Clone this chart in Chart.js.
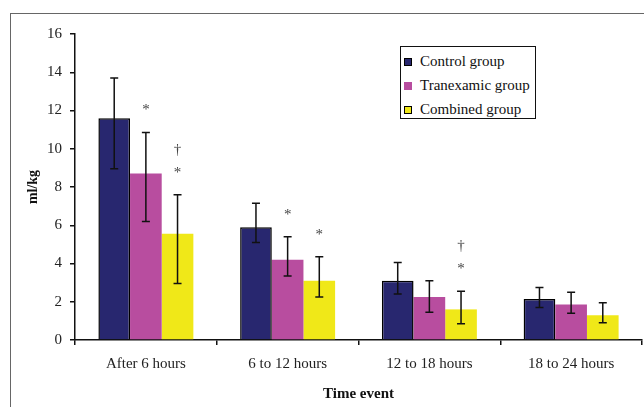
<!DOCTYPE html>
<html>
<head>
<meta charset="utf-8">
<script src="https://cdn.jsdelivr.net/npm/chart.js@4/dist/chart.umd.min.js"></script>
<style>
    body { margin: 0; background: #fff; }
    #wrap { position: relative; width: 644px; height: 407px; overflow: hidden; }
    .frame { position: absolute; left: 10px; top: 13px; width: 700px; height: 500px;
        border-top: 1.5px solid #666; border-left: 1.5px solid #666; }
    #legend { position: absolute; left: 400px; top: 46px; width: 131px; height: 69px;
        border: 1.5px solid #111; background: #fff; padding: 2px 0 0 3px; box-sizing: content-box;
        font: 15px "Liberation Serif", serif; color: #111; }
    #legend div { height: 24px; line-height: 24px; white-space: nowrap; }
    #legend span { display: inline-block; width: 8px; height: 8px; margin-right: 8px; box-sizing: border-box; }
</style>
</head>
<body>
<div id="wrap">
    <div class="frame"></div>
    <canvas id="chart"></canvas>
    <div id="legend"></div>
</div>
<script>
const categories = ['After 6 hours', '6 to 12 hours', '12 to 18 hours', '18 to 24 hours']
const seriesNames = ['Control group', 'Tranexamic group', 'Combined group']

// mean and the two ends of each error bar (ml/kg)
const controlMean = [11.6, 5.9, 3.1, 2.15]
const controlHigh = [13.7, 7.15, 4.05, 2.75]
const controlLow = [8.95, 5.1, 2.4, 1.7]
const tranexamicMean = [8.7, 4.2, 2.25, 1.85]
const tranexamicHigh = [10.85, 5.4, 3.1, 2.5]
const tranexamicLow = [6.2, 3.35, 1.45, 1.4]
const combinedMean = [5.55, 3.1, 1.6, 1.3]
const combinedHigh = [7.6, 4.35, 2.55, 1.95]
const combinedLow = [2.95, 2.25, 0.85, 0.9]

// significance marks above the bars
const controlMarks = ['', '', '', '']
const tranexamicMarks = ['*', '*', '', '']
const combinedMarks = ['†*', '*', '†*', '']

const yTicks = [0, 2, 4, 6, 8, 10, 12, 14, 16]

const colors = ['#28276f', '#b84d9f', '#f0e818']
const serif = '"Liberation Serif", "Times New Roman", serif'

// error bars + marks
const errorBars = {
    id: 'errorBars',
    afterDatasetsDraw(chart) {
        const ctx = chart.ctx
        const y = chart.scales.y
        ctx.save()
        chart.data.datasets.forEach((ds, di) => {
            const meta = chart.getDatasetMeta(di)
            meta.data.forEach((bar, i) => {
                const top = y.getPixelForValue(ds.errHigh[i])
                const bot = y.getPixelForValue(ds.errLow[i])
                ctx.strokeStyle = '#111'
                ctx.lineWidth = 1.5
                ctx.beginPath()
                ctx.moveTo(bar.x, top); ctx.lineTo(bar.x, bot)
                ctx.moveTo(bar.x - 4, top); ctx.lineTo(bar.x + 4, top)
                ctx.moveTo(bar.x - 4, bot); ctx.lineTo(bar.x + 4, bot)
                ctx.stroke()

                const marks = ds.marks[i]
                if (!marks) return
                ctx.fillStyle = '#444'
                ctx.font = '15px ' + serif
                ctx.textAlign = 'center'
                ctx.textBaseline = 'middle'
                let my = top - 25
                for (let k = marks.length - 1; k >= 0; k--) {
                    ctx.fillText(marks[k], bar.x, marks[k] == '*' ? my + 3 : my)
                    my -= 20
                }
            })
        })
        ctx.restore()
    }
}

new Chart(document.getElementById('chart'), {
    type: 'bar',
    data: {
        labels: categories,
        datasets: [
            { label: seriesNames[0], data: controlMean, errHigh: controlHigh, errLow: controlLow, marks: controlMarks,
              backgroundColor: colors[0], borderColor: '#000', borderWidth: 1.5 },
            { label: seriesNames[1], data: tranexamicMean, errHigh: tranexamicHigh, errLow: tranexamicLow, marks: tranexamicMarks,
              backgroundColor: colors[1], borderWidth: 0 },
            { label: seriesNames[2], data: combinedMean, errHigh: combinedHigh, errLow: combinedLow, marks: combinedMarks,
              backgroundColor: colors[2], borderWidth: 0 }
        ]
    },
    options: {
        responsive: true,
        maintainAspectRatio: false,
        animation: false,
        layout: { padding: { top: 34, right: 2, left: 0, bottom: 0 } },
        datasets: { bar: { categoryPercentage: 0.67, barPercentage: 1.0 } },
        plugins: { legend: { display: false }, tooltip: { enabled: false } },
        scales: {
            x: {
                afterFit: s => { s.height = 67 },
                grid: { drawOnChartArea: false, drawTicks: true, tickLength: 5, color: '#111', lineWidth: 1.5, offset: true },
                border: { display: true, color: '#111', width: 1.5 },
                ticks: { color: '#222', padding: 10, font: { family: serif, size: 15 }, maxRotation: 0 },
                title: { display: true, text: 'Time event', color: '#111', padding: { top: 0, bottom: 4 },
                    font: { family: serif, size: 15, weight: 'bold' } }
            },
            y: {
                min: 0, max: 16,
                afterFit: s => { s.width = 75 },
                afterBuildTicks: s => { s.ticks = yTicks.map(v => ({ value: v })) },
                grid: { drawOnChartArea: false, drawTicks: true, tickLength: 5, color: '#111', lineWidth: 1.5 },
                border: { display: true, color: '#111', width: 1.5 },
                ticks: { color: '#222', padding: 8, font: { family: serif, size: 15 } },
                title: { display: true, text: 'ml/kg', color: '#111', padding: { top: 25, bottom: 0 },
                    font: { family: serif, size: 14, weight: 'bold' } }
            }
        }
    },
    plugins: [errorBars]
})

// legend box
const legend = document.getElementById('legend')
seriesNames.forEach((name, i) => {
    const row = document.createElement('div')
    const sw = document.createElement('span')
    sw.style.background = colors[i]
    if (i != 1) sw.style.border = '1px solid #000'
    row.append(sw, name)
    legend.append(row)
})
</script>
</body>
</html>
